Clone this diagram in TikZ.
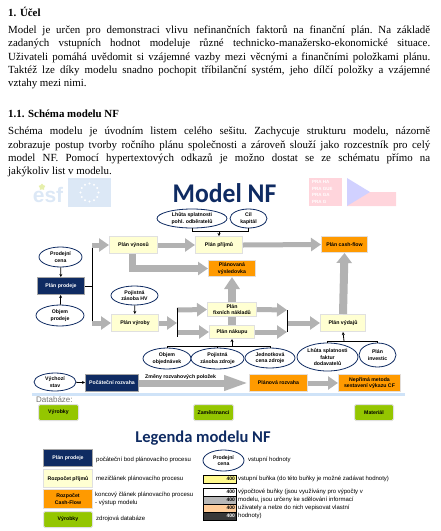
\documentclass[tikz,border=0pt]{standalone}
\usepackage{fontspec}
\setmainfont{Liberation Serif}
\newfontfamily\arialfont{Liberation Sans}
\newfontfamily\titlefont{Carlito}
\usepackage{xcolor}
\usetikzlibrary{arrows.meta,calc,shapes.geometric}

\definecolor{navy}{HTML}{0F2B62}
\definecolor{planyellow}{HTML}{FFFFD2}
\definecolor{planorange}{HTML}{FF9A00}
\definecolor{dbgreen}{HTML}{94C600}
\definecolor{bandblue}{HTML}{CFE3F8}
\definecolor{logoblue}{HTML}{DCE8F6}
\definecolor{logored}{HTML}{FFD5DC}

\tikzset{
  lbl/.style={font=\arialfont\fontsize{5.2}{6.4}\selectfont\bfseries, align=center, inner sep=0pt},
  legtext/.style={font=\arialfont\fontsize{6}{8}\selectfont, align=left, anchor=west, inner sep=0pt},
  parbody/.style={anchor=north west, inner sep=0pt, text width=422pt, align=justify, font=\fontsize{10.9}{13.3}\selectfont\frenchspacing},
  headbody/.style={anchor=west, inner sep=0pt, font=\fontsize{10.9}{12}\selectfont\bfseries},
  midbox/.style={lbl, rectangle, fill=planyellow, draw=black!12, line width=1pt},
  startbox/.style={lbl, rectangle, fill=navy, draw=black!35, line width=1pt, text=white},
  endbox/.style={lbl, rectangle, fill=planorange, draw=orange!30!black!15, line width=1pt},
  dbbox/.style={lbl, rectangle, rounded corners=1.5pt, fill=dbgreen, draw=black!12, line width=1pt},
  inputell/.style={lbl, ellipse, fill=white, draw=navy, line width=0.8pt},
  flow/.style={line width=5pt, draw=black!30, -{Triangle[length=10pt,width=13pt,fill=black!30]}},
  flowwide/.style={line width=7pt, draw=black!30, -{Triangle[length=25pt,width=14pt,fill=black!30]}},
  feed/.style={line width=0.8pt, draw=black},
  feedarr/.style={feed, ->, >={Stealth[length=3pt,width=3pt]}},
  cellbox/.style={font=\arialfont\fontsize{5}{5}\selectfont\bfseries, rectangle, draw=black, line width=0.8pt, minimum width=33pt, minimum height=8pt, inner sep=1pt, align=right}
}

\begin{document}
\begin{tikzpicture}[x=1pt,y=-1pt,>=Stealth]
\useasboundingbox (0,0) rectangle (440,531);

% text on top
\node[headbody] (head1) at (8,12) {1. Účel};
\node[parbody] (par1) at (8,25.5) {Model je určen pro demonstraci vlivu nefinančních faktorů na finanční plán. Na základě\linebreak
zadaných vstupních hodnot modeluje různé technicko-manažersko-ekonomické situace.\linebreak
Uživateli pomáhá uvědomit si vzájemné vazby mezi věcnými a finančními položkami plánu.\linebreak
Taktéž lze díky modelu snadno pochopit tříbilanční systém, jeho dílčí položky a vzájemné\linebreak
vztahy mezi nimi.};
\node[headbody] (head2) at (8,114) {1.1. Schéma modelu NF};
\node[parbody] (par2) at (8,127) {Schéma modelu je úvodním listem celého sešitu. Zachycuje strukturu modelu, názorně\linebreak
zobrazuje postup tvorby ročního plánu společnosti a zároveň slouží jako rozcestník pro celý\linebreak
model NF. Pomocí hypertextových odkazů je možno dostat se ze schématu přímo na\linebreak
jakýkoliv list v modelu.};

% logos
\node[inner sep=0pt, text=logoblue, font=\arialfont\fontsize{21}{21}\selectfont\bfseries] (esf) at (48,195) {esf};
\node[star, star points=5, fill=logoblue!70!yellow, inner sep=0pt, minimum size=7pt] (esfstar) at (42,187) {};
\fill[logoblue] (68,178) rectangle (111,207);
\foreach \a in {0,30,...,330}
  \fill[white] ($(89.5,192.5)+(\a:9)$) circle (1.1);
\fill[logored] (309,178) rectangle (342,206);
\node[anchor=west, inner sep=0pt, text=white, font=\arialfont\fontsize{4.5}{6.8}\selectfont\bfseries, align=left] (praha) at (312,192) {PRA HA\\PRA GUE\\PRA GA\\PRA G};
\fill[logored] (347,192) -- (370,192) -- (396,192) -- (396,206) -- (347,206) -- cycle;
\fill[blue!18] (347,178) -- (370,192) -- (347,206) -- cycle;

% title
\node[inner sep=0pt, text=navy, font=\titlefont\fontsize{27}{27}\selectfont\bfseries] (title) at (224.5,193) {\scalebox{0.95}[1]{Model NF}};

% input ellipses
\node[inputell, minimum width=70pt, minimum height=19pt] (lhutapohl) at (192,218.5) {Lhůta splatnosti\\pohl. odběratelů};
\node[inputell, minimum width=37pt, minimum height=19pt] (cil) at (248.5,218.5) {Cíl\\kapitál};
\node[inputell, minimum width=43pt, minimum height=20pt] (cena) at (60.5,257) {Prodejní\\cena};
\node[inputell, minimum width=48pt, minimum height=21pt] (objem) at (60,315.5) {Objem\\prodeje};
\node[inputell, minimum width=47pt, minimum height=19pt] (zasobahv) at (134.5,295.5) {Pojistná\\zásoba HV};
\node[inputell, minimum width=48pt, minimum height=21pt] (objedn) at (167,358.5) {Objem\\objednávek};
\node[inputell, minimum width=53pt, minimum height=21pt] (zasobazdr) at (217.5,358.5) {Pojistná\\zásoba zdroje};
\node[inputell, minimum width=50pt, minimum height=20pt] (jedn) at (270,358) {Jednotková\\cena zdroje};
\node[inputell, minimum width=61pt, minimum height=28pt] (lhutafakt) at (327.5,357) {Lhůta splatnosti\\faktur\\dodavatelů};
\node[inputell, minimum width=37pt, minimum height=24pt] (invest) at (377.5,355) {Plán\\investic};
\node[inputell, minimum width=42pt, minimum height=18pt] (stav) at (55,382) {Výchozí\\stav};

% plans
\node[startbox, minimum width=47pt, minimum height=17pt] (prodej) at (61,286) {Plán prodeje};
\node[midbox, minimum width=48pt, minimum height=17pt] (vynosy) at (133.5,245) {Plán výnosů};
\node[midbox, minimum width=47pt, minimum height=17pt] (prijmy) at (219,245) {Plán příjmů};
\node[endbox, minimum width=46pt, minimum height=16pt] (cashflow) at (344.5,244.5) {Plán cash-flow};
\node[endbox, minimum width=47pt, minimum height=16pt] (vysl) at (232,268.5) {Plánovaná\\výsledovka};
\node[midbox, minimum width=47pt, minimum height=17pt] (vyroba) at (135,323) {Plán výroby};
\node[midbox, minimum width=49pt, minimum height=14pt] (fixni) at (232,309.5) {Plán\\fixních nákladů};
\node[midbox, minimum width=45pt, minimum height=13pt] (nakup) at (232,332) {Plán nákupu};
\node[midbox, minimum width=45pt, minimum height=17pt] (vydaje) at (343,323) {Plán výdajů};
\node[startbox, minimum width=53pt, minimum height=17pt] (pocrozv) at (112,383) {Počáteční rozvaha};
\node[endbox, minimum width=58pt, minimum height=17pt] (planrozv) at (278.5,383) {Plánová rozvaha};
\node[endbox, minimum width=62pt, minimum height=17pt] (neprima) at (369.5,383) {Nepřímá metoda\\sestavení výkazu CF};

% block arrows
\coordinate (split1) at (92,286);
\coordinate (split2) at (177,323);
\coordinate (join1) at (287,323);
\draw[flow] (vynosy.east) -- (prijmy.west);
\draw[flow] (prijmy.east) -- (cashflow.west);
\draw[flow, line width=7pt] (vynosy.south) ++(-1.5,0) |- (vysl.west);
\draw[flow, line width=8pt, -{Triangle[length=10pt,width=15pt,fill=black!30]}] (vydaje.north) -- (cashflow.south);
\draw[line width=8pt, draw=black!30] (nakup.north) -- (fixni.south);
\draw[flow, line width=8pt, -{Triangle[length=12pt,width=15pt,fill=black!30]}] (fixni.north) -- (vysl.south);
\draw[flow] (92,245) -- (vynosy.west);
\draw[flow] (92,323) -- (vyroba.west);
\draw[flow] (vyroba.east) -- (split2);
\draw[flow] (177,310) -- (fixni.west);
\draw[flow] (177,332) -- (nakup.west);
\draw[flow] (fixni.east) -- (287,310);
\draw[flow] (nakup.east) -- (287,332);
\draw[flow] (join1) -- (vydaje.west);
\draw[flowwide] (pocrozv.east) -- (planrozv.west);
\draw[flow] (planrozv.east) -- (neprima.west);

% thin connectors
\draw[feed] (prodej.east) -- (split1);
\draw[feed] (92,248) -- (92,321);
\draw[feed] (177,308) -- (177,337);
\draw[feed] (join1 |- 0,310) -- (join1 |- 0,332);
\draw[feedarr] (cena) -- (prodej);
\draw[feedarr] (objem) -- (prodej);
\draw[feedarr] (zasobahv) -- (vyroba);
\draw[feedarr] (stav) -- (pocrozv);
\coordinate (busa) at (219,231);
\coordinate (busb) at (232,346);
\coordinate (busc) at (344,341);
\draw[feed] (lhutapohl.south) -- (lhutapohl.south |- busa) -- (cil.south |- busa) -- (cil.south);
\draw[feedarr] (busa) -- (prijmy.north);
\draw[feed] (objedn.north) -- (objedn.north |- busb) -- (jedn.north |- busb) -- (jedn.north);
\draw[feed] (zasobazdr.north) -- (zasobazdr.north |- busb);
\draw[feedarr] (busb) -- (nakup.south);
\draw[feed] (lhutafakt.north) -- (lhutafakt.north |- busc) -- (invest.north |- busc) -- (invest.north);
\draw[feedarr] (busc) -- (vydaje.south);

% label over arrow
\node[anchor=west, inner sep=0pt, font=\arialfont\fontsize{5.2}{5.2}\selectfont\bfseries] (zmeny) at (145,377) {Změny rozvahových položek};

% databases
\fill[bandblue] (32,393) rectangle (405,396);
\node[anchor=west, inner sep=0pt, text=black!55, font=\arialfont\fontsize{8}{8}\selectfont] (databaze) at (36,400) {Databáze:};
\node[dbbox, minimum width=40pt, minimum height=16pt] (vyrobky) at (58.5,412.5) {Výrobky};
\node[dbbox, minimum width=40pt, minimum height=16pt] (zamest) at (213.5,412.5) {Zaměstnanci};
\node[dbbox, minimum width=39pt, minimum height=16pt] (material) at (374,412.5) {Materiál};

% legend
\node[inner sep=0pt, text=navy, font=\titlefont\fontsize{16.5}{16.5}\selectfont\bfseries] (legend) at (203,438) {Legenda modelu NF};
\node[startbox, minimum width=49pt, minimum height=17pt] (leg1) at (68,458) {Plán prodeje};
\node[midbox, minimum width=49pt, minimum height=18pt] (leg2) at (68,478.5) {Rozpočet příjmů};
\node[endbox, minimum width=49pt, minimum height=19pt] (leg3) at (68,499) {Rozpočet\\Cash-Flow};
\node[dbbox, minimum width=49pt, minimum height=16pt] (leg4) at (68,519.5) {Výrobky};
\node[legtext] (legt1) at (96,460) {počáteční bod plánovacího procesu};
\node[legtext] (legt2) at (96,479) {mezičlánek plánovacího procesu};
\node[legtext] (legt3) at (95,499) {koncový článek plánovacího procesu\\- výstup modelu};
\node[legtext] (legt4) at (96,519) {zdrojová databáze};
\node[inputell, minimum width=41pt, minimum height=21pt] (leg5) at (223.5,460.5) {Prodejní\\cena};
\node[legtext] (legt5) at (248,460) {vstupní hodnoty};

% cells
\node[cellbox, fill=yellow!45, text width=31pt] (cellin) at (219.5,479) {400};
\node[legtext] (legt6) at (238,479) {vstupní buňka (do této buňky je možné zadávat hodnoty)};
\foreach \nm/\yy/\col/\txtcol/\desc in {a/492/white/black/{výpočtové buňky (jsou využívány pro výpočty v},b/500/black!28/black/{modelu, jsou určeny ke sdělování informací},c/508/orange!40/black/{uživately a nelze do nich vepisovat vlastní},d/516/black!78/white/{hodnoty)}}{
  \node[cellbox, fill=\col, text=\txtcol, text width=31pt] (cell\nm) at (219.5,\yy) {400};
  \node[legtext] (celltxt\nm) at (238,\yy) {\desc};
}
\end{tikzpicture}
\end{document}
